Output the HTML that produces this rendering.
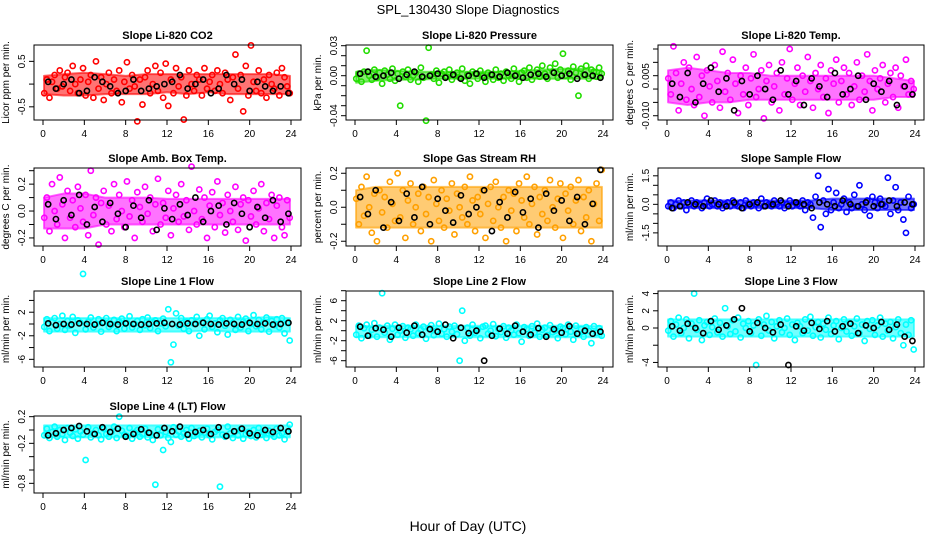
<!DOCTYPE html>
<html><head><meta charset="utf-8"><style>
html,body{margin:0;padding:0;background:#fff;}
svg{display:block;font-family:"Liberation Sans",Arial,sans-serif;}
</style></head><body>
<svg id="chart" width="936" height="540" viewBox="0 0 936 540">
<text x="468" y="14" text-anchor="middle" font-size="13">SPL_130430  Slope Diagnostics</text>
<text x="468" y="531" text-anchor="middle" font-size="14">Hour of Day (UTC)</text>
</svg>
<script>
const titles=["Slope Li-820 CO2","Slope Li-820 Pressure","Slope Li-820 Temp.","Slope Amb. Box Temp.","Slope Gas Stream RH","Slope Sample Flow","Slope Line 1 Flow","Slope Line 2 Flow","Slope Line 3 Flow","Slope Line 4 (LT) Flow"];
const yTitles=["Licor ppm per min.","kPa per min.","degrees C per min.","degrees C per min.","percent per min.","ml/min per min.","ml/min per min.","ml/min per min.","ml/min per min.","ml/min per min."];
const units=[0.01,0.001,0.001,0.01,0.01,0.1,0.1,0.1,0.1,0.01];
const xTicks=[0,4,8,12,16,20,24];
const yTicks=[[-0.5,0,0.5],[0.03,0.02,0.01,0,-0.01,-0.02,-0.03,-0.04],[0.015,0.01,0.005,0,-0.005,-0.01],[0.3,0.2,0.1,0,-0.1,-0.2],[0.2,0.1,0,-0.1,-0.2],[1.5,1,0.5,0,-0.5,-1,-1.5],[4,2,0,-2,-4,-6],[8,6,4,2,0,-2,-4,-6],[4,2,0,-2,-4],[0.2,0,-0.2,-0.4,-0.6,-0.8]];
const yLabels=[["-0.5","","0.5"],["0.03","","","0.00","","","","-0.04"],["","","0.005","","","-0.010"],["","0.2","","0.0","","-0.2"],["0.2","","0.0","","-0.2"],["1.5","","","0.0","","","-1.5"],["","2","","-2","","-6"],["","6","","2","","-2","","-6"],["4","2","0","","-4"],["0.2","","-0.2","","","-0.8"]];
const yDomains=[[0.86,-0.79],[0.0307,-0.0443],[0.0165,-0.0116],[0.32,-0.26],[0.231,-0.228],[1.91,-2.19],[5.6,-7.3],[7.94,-7.26],[4.3,-4.53],[0.21,-0.945]];
const colors=["#ff0000","#22dd00","#ff00ff","#ff00ff","#ffa000","#0000ff","#00ffff","#00ffff","#00ffff","#00ffff"];
const bandHours=[0,2,4,6,8,10,12,14,16,18,20,22,24];
const lo0=[-22,-25,-25,-22,-22,-22,-18,-22,-18,-22,-22,-22,-22], hi0=[18,22,25,22,18,22,22,22,22,22,22,22,18];
const lo1=[-7,-5,-4,-4,-3,-3,-3,-3,-3,-3,-3,-3,-3], hi1=[4,6,5,4,4,4,4,4,5,6,7,7,5];
const lo2=[-5,-6,-5,-5,-4,-4,-4,-4,-4,-4,-4,-3,-3], hi2=[7,8,7,6,6,5,5,5,5,5,5,4,3];
const lo3=[-13,-13,-13,-10,-10,-10,-10,-10,-10,-10,-10,-10,-10], hi3=[10,13,13,10,10,10,9,9,9,9,9,9,9];
const lo4=[-12,-12,-12,-12,-12,-12,-12,-12,-12,-12,-12,-12,-12], hi4=[10,12,12,12,12,12,12,12,12,12,12,12,12];
const lo5=[-2,-2,-2,-2,-2,-2,-2,-2,-3,-3,-3,-3,-3], hi5=[2,2,2,2,2,2,2,2,3,3,3,3,3];
const lo6=[-13,-13,-13,-13,-13,-13,-13,-13,-11,-13,-13,-13,-13], hi6=[10,10,10,10,10,10,10,10,10,10,10,12,10];
const lo7=[-13,-13,-13,-13,-13,-13,-13,-13,-13,-13,-13,-13,-13], hi7=[9,10,10,10,10,10,10,10,10,10,10,10,9];
const lo8=[-10,-10,-10,-10,-10,-10,-10,-10,-10,-10,-10,-10,-10], hi8=[10,10,10,10,10,10,10,10,10,10,10,10,10];
const lo9=[-11,-11,-11,-11,-11,-11,-11,-11,-11,-11,-11,-11,-11], hi9=[7,7,7,7,7,7,7,7,7,7,7,7,7];
const bandLo=[lo0,lo1,lo2,lo3,lo4,lo5,lo6,lo7,lo8,lo9];
const bandHi=[hi0,hi1,hi2,hi3,hi4,hi5,hi6,hi7,hi8,hi9];
const s0=[-20,10,-30,5,20,-10,30,-5,15,25,-15,40,0,-20,10,35,-25,5,20,-30,50,-10,15,-35,0,25,-20,10,-15,30,-40,5,48,-10,20,-5,-82,10,-45,15,30,-20,0,40,-15,25,-30,45,-48,10,-20,35,-5,15,-78,-25,30,0,-15,20,10,-25,35,-10,5,20,-15,30,0,-20,25,10,-35,15,65,-10,20,-60,40,-25,85,5,-15,30,-20,10,-30,20,0,-10,25,-25,35,15,-5,-20];
const s1=[-3,2,-6,4,25,0,-4,6,-2,3,-8,5,1,-3,7,-5,2,-30,4,-1,6,-4,0,3,-6,8,-2,-45,28,1,-3,5,-7,2,4,-1,6,-4,0,3,-2,7,-5,1,-8,4,2,-3,5,0,-6,3,1,-4,6,-2,2,-5,4,0,-3,7,1,-6,3,5,-2,8,-4,0,6,-1,10,2,-3,8,4,12,-2,6,22,0,5,-4,9,3,-20,7,1,10,-3,6,4,-1,8,2];
const s2=[4,-2,16,6,-8,2,10,-4,8,0,-6,12,-3,5,-10,7,1,-5,9,3,-7,14,-1,6,-4,11,2,-9,5,-2,8,-6,4,13,-3,0,7,-11,3,9,-5,1,6,-8,10,-2,4,15,-4,2,8,-6,5,-1,12,3,-7,6,0,9,-3,4,-9,7,2,11,-5,3,8,-2,6,-6,1,10,-4,5,-1,13,3,-8,7,0,4,9,-5,2,6,-3,8,-7,5,1,11,-2,3,0];
const s3=[-5,10,-15,20,0,-10,25,5,-20,15,-5,8,-12,18,2,-8,12,-18,30,-3,10,-25,6,15,-10,4,-15,20,-6,12,0,-12,22,-4,8,-20,14,3,-8,18,-2,10,-15,5,24,-10,6,-5,15,-18,2,12,-8,20,-4,8,-14,33,0,-10,16,-6,10,-20,4,14,-12,22,-3,6,-16,12,0,-8,18,-14,5,10,-22,8,-4,15,-10,2,20,-15,6,-6,12,-20,4,10,-12,-18,8,-5];
const s4=[5,-10,12,-5,18,0,-15,8,-20,10,-3,6,-12,15,2,-8,20,-6,10,-18,4,14,-10,0,8,-14,12,-4,6,-20,16,2,-8,10,-12,5,-2,14,-16,8,0,-6,12,-10,18,4,-14,6,-4,10,-18,2,12,-8,15,0,-12,6,-20,10,-2,8,-14,14,4,-6,18,-10,2,12,-16,6,-4,10,-8,16,0,-12,5,14,-18,8,-2,12,-10,4,16,-14,6,-6,10,-20,2,14,-8,22];
const s5=[-1,1,-2,0,2,-1,1,-3,0,2,-1,1,0,-2,1,3,-1,0,2,-1,1,-2,0,1,-1,2,0,-1,1,-2,2,0,-1,1,0,-2,3,-1,1,0,-1,2,0,-1,1,-2,0,2,-1,1,0,-1,2,-3,1,0,-7,4,15,-12,2,-5,8,-3,1,6,-2,0,3,-4,1,-2,5,-1,10,0,-3,2,-6,4,1,-2,3,0,-1,14,-5,2,9,-3,1,-8,-15,4,-2,0];
const s6=[-5,8,-12,3,10,-8,0,14,-10,5,-3,12,-15,6,2,85,-9,4,11,-6,0,8,-13,3,10,-5,-1,7,-12,4,9,-8,2,13,-6,0,5,-10,8,-2,11,-7,3,6,-12,1,9,-4,25,-65,-35,18,-3,10,-8,4,-12,6,0,12,-20,3,-9,8,14,-5,1,-14,6,10,-3,-18,7,2,-10,12,-6,4,9,-12,0,15,-4,7,-9,3,11,-13,5,-2,8,-6,10,-16,2,-28];
const s7=[-8,10,-15,5,12,-10,2,15,-12,6,75,-4,10,-18,4,12,-8,0,9,-14,6,3,-10,12,-5,2,8,-16,5,11,-9,0,14,-6,3,-12,8,-2,10,-7,-60,40,-20,6,-10,12,-4,2,-15,8,10,-6,0,13,-11,4,-3,9,-14,6,1,-8,12,-5,-22,7,3,-10,9,-4,14,-12,2,6,-9,11,-3,0,-15,8,5,-7,12,-2,-18,10,-6,3,-12,7,0,-25,9,-4,5,-10];
const s8=[-3,8,-10,4,12,-6,0,10,-12,5,40,-2,9,-14,3,7,-8,1,11,-5,6,-10,23,2,-7,9,-4,12,-11,5,0,8,-6,3,-43,10,-9,4,14,-3,7,-12,2,9,-5,0,11,-8,4,-14,6,2,-6,10,-3,13,-9,1,7,-11,5,-2,12,-7,3,8,-13,0,10,-4,6,-9,2,11,-6,4,-15,8,-1,9,-8,3,12,-10,5,-3,7,-12,1,10,-6,-20,4,-8,9,-25];
const s9=[-8,2,-12,-3,5,-10,0,-6,-15,3,-4,-9,1,-13,-2,-7,-45,4,-11,-5,0,-8,-14,2,-6,-10,-3,5,-12,20,-1,-7,-9,3,-13,-4,0,-10,-6,2,-11,-5,-15,-82,1,-8,-30,-3,-12,-18,4,-7,-2,-10,-5,0,-13,3,-9,-6,-1,-11,-4,2,-8,-14,-3,0,-85,-7,-10,5,-5,-12,-2,-8,1,-13,-6,-3,-9,0,-11,3,-7,-4,-12,-1,-6,-10,2,-8,-5,-14,-3,8];
const b0=[5,-10,0,10,-20,-15,15,5,-5,-20,-15,10,-15,-10,-5,0,5,20,-10,0,10,-20,-10,20,0,10,-15,5,-5,-15,-5,-20];
const b1=[2,4,-1,0,3,-3,1,4,-1,0,2,-2,1,-3,0,2,-2,1,-1,3,0,-2,1,2,-1,3,0,2,-3,1,0,-2];
const b2=[2,-3,6,-5,2,8,-1,4,-8,3,-2,5,0,-4,7,-2,3,-6,4,1,-3,6,-2,0,5,-4,2,-1,3,-6,1,-2];
const b3=[5,-6,8,-3,12,-10,3,-8,6,-2,-12,4,-5,8,-14,2,-6,5,-3,10,-8,0,4,-10,6,-2,-12,3,-5,8,-8,-2];
const b4=[6,-4,10,-12,3,-8,8,-6,12,-10,5,-2,-9,7,-4,0,10,-14,3,-6,9,-3,5,-12,8,-2,4,-8,6,-10,2,22];
const b5=[-2,-1,1,0,-1,2,0,-1,1,-2,0,1,-1,0,2,-1,1,0,-2,1,0,-1,2,0,-1,1,-1,0,2,-1,1,0];
const b6=[1,-2,0,-1,1,0,-1,2,0,-1,1,0,-1,0,1,2,0,-1,1,0,2,0,-1,1,0,-1,2,0,1,-1,0,2];
const b7=[8,-10,5,2,-12,6,-4,10,-8,3,-2,12,-15,6,-5,0,-60,-10,4,-6,10,-2,-8,5,-12,3,-4,9,-6,0,-6,-2];
const b8=[2,-3,5,0,-6,8,-2,3,10,23,-4,6,0,-5,4,-43,2,-3,6,-1,8,-4,2,5,-6,3,0,7,-2,4,-10,-15];
const b9=[-8,-5,0,3,6,-2,-6,4,-3,2,-10,-6,1,-4,-8,3,-2,5,-7,-3,0,-6,4,-9,-2,2,-5,-8,0,-3,3,-2];
const colorSeries=[s0,s1,s2,s3,s4,s5,s6,s7,s8,s9];
const blackSeries=[b0,b1,b2,b3,b4,b5,b6,b7,b8,b9];

const NS="http://www.w3.org/2000/svg";
const svg=document.getElementById('chart');
const colBox=[[34,301],[346,613],[658,924]];
const colX0=[43,355,667];
const rowBox=[[45,120],[168,246],[291,367],[416,493]];
function mk(tag,attrs,parent){const e=document.createElementNS(NS,tag);for(const k in attrs)e.setAttribute(k,attrs[k]);(parent||svg).appendChild(e);return e;}
for(let p=0;p<10;p++){
  const r=Math.floor(p/3),c=p%3;
  const [L,R]=colBox[c],[T,B]=rowBox[r];
  const x0=colX0[c],xs=248/24;
  const xScale=h=>x0+h*xs;
  const [d0,d1]=yDomains[p];
  const yScale=v=>T+(d0-v)/(d0-d1)*(B-T);
  const g=mk('g',{});
  
  
  const t=mk('text',{x:(L+R)/2,y:T-6,'text-anchor':'middle','font-size':11,'font-weight':'bold'},g);
  t.textContent=titles[p];
  
  
  const yt=mk('text',{transform:`translate(${L-25},${(T+B)/2}) rotate(-90)`,'text-anchor':'middle','font-size':10},g);
  yt.textContent=yTitles[p];
  
  
  const lo=bandLo[p],hi=bandHi[p];
  const hx=h=>xScale(Math.min(23.9,Math.max(0.1,h)));
  let pts=bandHours.map((h,i)=>hx(h)+','+yScale(hi[i]*units[p]));
  pts=pts.concat(bandHours.slice().reverse().map((h,j)=>{const i=bandHours.length-1-j;return hx(h)+','+yScale(lo[i]*units[p]);}));
  const band=mk('polygon',{points:pts.join(' '),fill:colors[p],'fill-opacity':0.55,stroke:colors[p],'stroke-opacity':0.6,'stroke-width':2,'stroke-linejoin':'round'},g);
  
  
  const cs=colorSeries[p];
  cs.forEach((v,i)=>{
    const cc=mk('circle',{cx:xScale((i+0.5)*24/cs.length),cy:yScale(v*units[p]),r:2.6,fill:'none',stroke:colors[p],'stroke-width':1.6},g);
    
    
  });
  const bs=blackSeries[p];
  bs.forEach((v,i)=>{
    const cc=mk('circle',{cx:xScale(0.5+i*0.75),cy:yScale(v*units[p]),r:2.6,fill:'none',stroke:'#000','stroke-width':1.6},g);
    
    
  });
  const box=mk('rect',{x:L,y:T,width:R-L,height:B-T,fill:'none',stroke:'#000','stroke-width':1},g);
  
  
  xTicks.forEach(h=>{
    const X=xScale(h);
    mk('line',{x1:X,x2:X,y1:B,y2:B+5,stroke:'#000'},g);
    const lt=mk('text',{x:X,y:B+17,'text-anchor':'middle','font-size':10},g);
    lt.textContent=h;
    
    
  });
  yTicks[p].forEach((v,i)=>{
    const Y=yScale(v);
    mk('line',{x1:L-5,x2:L,y1:Y,y2:Y,stroke:'#000'},g);
    if(yLabels[p][i]){
      const lt=mk('text',{transform:`translate(${L-9},${Y}) rotate(-90)`,'text-anchor':'middle','font-size':10},g);
      lt.textContent=yLabels[p][i];
      
      
    }
  });
}
</script>
</body></html>
